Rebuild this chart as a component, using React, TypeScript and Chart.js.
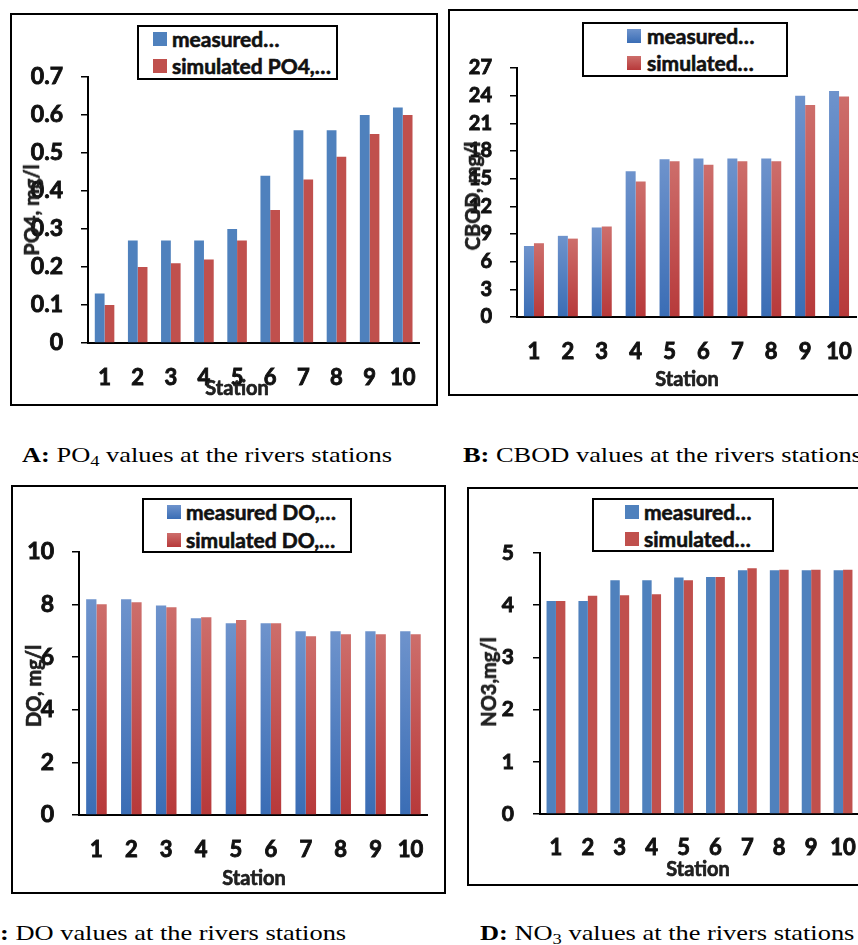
import React, { useEffect, useRef } from "react";
import { Chart, registerables } from "chart.js";

Chart.register(...registerables);

const stations = ["1", "2", "3", "4", "5", "6", "7", "8", "9", "10"];

const po4Measured = [0.13, 0.27, 0.27, 0.27, 0.3, 0.44, 0.56, 0.56, 0.6, 0.62];
const po4Simulated = [0.1, 0.2, 0.21, 0.22, 0.27, 0.35, 0.43, 0.49, 0.55, 0.6];

const cbodMeasured = [7.7, 8.8, 9.7, 15.8, 17.1, 17.2, 17.2, 17.2, 24.0, 24.5];
const cbodSimulated = [8.0, 8.5, 9.8, 14.7, 16.9, 16.5, 16.9, 16.9, 23.0, 23.9];

const doMeasured = [8.2, 8.2, 7.97, 7.48, 7.29, 7.29, 6.99, 6.99, 6.99, 6.99];
const doSimulated = [8.01, 8.09, 7.9, 7.52, 7.41, 7.29, 6.8, 6.87, 6.87, 6.87];

const no3Measured = [4.08, 4.08, 4.48, 4.48, 4.53, 4.54, 4.67, 4.67, 4.67, 4.67];
const no3Simulated = [4.08, 4.18, 4.19, 4.21, 4.48, 4.54, 4.71, 4.68, 4.68, 4.68];

const legendA = ["measured…", "simulated PO4,…"];
const legendB = ["measured…", "simulated…"];
const legendC = ["measured DO,…", "simulated DO,…"];
const legendD = ["measured…", "simulated…"];

const FONT = "Lato, 'Open Sans', sans-serif";
const WEIGHT = 700;
const STROKE = "0.6px #111";
const BLUE = "#4F81BD";
const RED = "#C0504D";
const BLUE_TOP = "#6E93CC";
const BLUE_BOT = "#3A6DB5";
const RED_TOP = "#CD6E6B";
const RED_BOT = "#B7393A";

type Rect = { l: number; t: number; w: number; h: number };
type Area = { l: number; t: number; r: number; b: number };
type LegendGeo = { l: number; t: number; w: number; h: number; swX: number; sw: number; textX: number; rows: number[]; font: number; texts: string[] };
type PanelProps = {
  box: Rect;
  area: Area;
  measured: number[];
  simulated: number[];
  yMax: number;
  yStep: number;
  yFont: number;
  xFont: number;
  yPad: number;
  xPad: number;
  gradient: boolean;
  legend: LegendGeo;
  yTitle: string;
  yTitlePos: { cx: number; cy: number; font: number };
  xTitlePos: { cx: number; cy: number; font: number };
};

function barFill(top: string, bot: string, flat: string, gradient: boolean) {
  if (!gradient) return flat;
  return (ctx: any) => {
    const chart = ctx.chart;
    const y = chart.scales && chart.scales.y;
    const area = chart.chartArea;
    if (!y || !area || ctx.type !== "data") return flat;
    const v = ctx.raw as number;
    const yTop = y.getPixelForValue(v);
    if (!isFinite(yTop) || yTop >= area.bottom) return flat;
    const g = chart.ctx.createLinearGradient(0, yTop, 0, area.bottom);
    g.addColorStop(0, top);
    g.addColorStop(1, bot);
    return g;
  };
}

function Panel(p: PanelProps) {
  const ref = useRef<HTMLCanvasElement | null>(null);
  useEffect(() => {
    if (!ref.current) return;
    const { box, area } = p;
    const chart = new Chart(ref.current, {
      type: "bar",
      data: {
        labels: stations,
        datasets: [
          {
            label: p.legend.texts[0],
            data: p.measured,
            backgroundColor: barFill(BLUE_TOP, BLUE_BOT, BLUE, p.gradient) as any,
            borderWidth: 0,
            categoryPercentage: 0.59,
            barPercentage: 1,
          },
          {
            label: p.legend.texts[1],
            data: p.simulated,
            backgroundColor: barFill(RED_TOP, RED_BOT, RED, p.gradient) as any,
            borderWidth: 0,
            categoryPercentage: 0.59,
            barPercentage: 1,
          },
        ],
      },
      options: {
        responsive: false,
        animation: false,
        events: [],
        layout: {
          padding: {
            left: 0,
            top: area.t - box.t,
            right: box.l + box.w - area.r,
            bottom: 0,
          },
        },
        plugins: { legend: { display: false }, tooltip: { enabled: false }, title: { display: false } },
        scales: {
          x: {
            grid: { display: false, drawTicks: false, tickLength: 0 },
            border: { display: true, color: "#000", width: 2 },
            ticks: {
              color: "#111",
              font: { family: FONT, size: p.xFont, weight: WEIGHT as any },
              textStrokeColor: "#111",
              textStrokeWidth: 0.9,
              padding: p.xPad,
              autoSkip: false,
              maxRotation: 0,
              minRotation: 0,
            },
            afterFit: (s: any) => {
              s.height = box.t + box.h - area.b;
            },
          },
          y: {
            min: 0,
            max: p.yMax,
            grid: { display: true, drawOnChartArea: false, drawTicks: true, tickLength: 7, color: "#000", lineWidth: 1.5 },
            border: { display: true, color: "#000", width: 2 },
            ticks: {
              stepSize: p.yStep,
              color: "#111",
              font: { family: FONT, size: p.yFont, weight: WEIGHT as any },
              textStrokeColor: "#111",
              textStrokeWidth: 0.9,
              padding: p.yPad,
            },
            afterFit: (s: any) => {
              s.width = area.l - box.l;
            },
          },
        },
      },
    });
    return () => chart.destroy();
  }, []);

  const { box, legend } = p;
  const swatch = (i: number) =>
    p.gradient
      ? i === 0
        ? `linear-gradient(${BLUE_TOP}, ${BLUE_BOT})`
        : `linear-gradient(${RED_TOP}, ${RED_BOT})`
      : i === 0
      ? BLUE
      : RED;
  const textBase: React.CSSProperties = {
    position: "absolute",
    fontFamily: FONT,
    fontWeight: WEIGHT,
    whiteSpace: "nowrap",
    WebkitTextStroke: STROKE,
  };
  return (
    <>
      <canvas
        ref={ref}
        width={box.w}
        height={box.h}
        style={{ position: "absolute", left: box.l, top: box.t, width: box.w, height: box.h }}
      />
      <div
        style={{
          position: "absolute",
          left: box.l,
          top: box.t,
          width: box.w,
          height: box.h,
          border: "2px solid #000",
          boxSizing: "border-box",
          pointerEvents: "none",
        }}
      />
      <div
        style={{
          position: "absolute",
          left: legend.l,
          top: legend.t,
          width: legend.w,
          height: legend.h,
          border: "2px solid #000",
          boxSizing: "border-box",
          background: "#fff",
        }}
      />
      {legend.texts.map((t, i) => (
        <React.Fragment key={i}>
          <div
            style={{
              position: "absolute",
              left: legend.swX,
              top: legend.rows[i] - legend.sw / 2,
              width: legend.sw,
              height: legend.sw,
              background: swatch(i),
            }}
          />
          <div
            style={{
              ...textBase,
              left: legend.textX,
              top: legend.rows[i] - legend.font * 0.6,
              height: legend.font * 1.2,
              lineHeight: `${legend.font * 1.2}px`,
              fontSize: legend.font,
              color: "#111",
            }}
          >
            {t}
          </div>
        </React.Fragment>
      ))}
      <div
        style={{
          ...textBase,
          left: p.yTitlePos.cx,
          top: p.yTitlePos.cy,
          transform: "translate(-50%, -50%) rotate(-90deg)",
          fontSize: p.yTitlePos.font,
          lineHeight: 1,
          color: "#222",
        }}
      >
        {p.yTitle}
      </div>
      <div
        style={{
          ...textBase,
          left: p.xTitlePos.cx,
          top: p.xTitlePos.cy,
          transform: "translate(-50%, -50%)",
          fontSize: p.xTitlePos.font,
          lineHeight: 1,
          color: "#222",
        }}
      >
        Station
      </div>
    </>
  );
}

const capStyle = (left: number, top: number): React.CSSProperties => ({
  position: "absolute",
  left,
  top,
  fontFamily: "'Liberation Serif', 'Times New Roman', serif",
  fontSize: 22,
  lineHeight: "22px",
  color: "#000",
  whiteSpace: "nowrap",
  transform: "scaleX(1.2)",
  transformOrigin: "0 50%",
});

const subStyle: React.CSSProperties = { fontSize: "0.7em", verticalAlign: "-0.25em", lineHeight: 0 };

export default function App() {
  return (
    <div style={{ position: "fixed", left: 0, top: 0, width: 858, height: 945, overflow: "hidden", background: "#fff" }}>
      <Panel
        box={{ l: 10, t: 13, w: 428, h: 393 }}
        area={{ l: 88, t: 77, r: 428, b: 343 }}
        measured={po4Measured}
        simulated={po4Simulated}
        yMax={0.7}
        yStep={0.1}
        yFont={23}
        xFont={22}
        yPad={18}
        xPad={22}
        gradient={false}
        legend={{ l: 137, t: 25, w: 201, h: 55, swX: 153, sw: 14, textX: 172, rows: [39, 66], font: 21, texts: legendA }}
        yTitle="PO4, mg/l"
        yTitlePos={{ cx: 31, cy: 210, font: 20 }}
        xTitlePos={{ cx: 237, cy: 387, font: 20 }}
      />
      <Panel
        box={{ l: 448, t: 9, w: 430, h: 387 }}
        area={{ l: 517, t: 68, r: 856, b: 317 }}
        measured={cbodMeasured}
        simulated={cbodSimulated}
        yMax={27}
        yStep={3}
        yFont={20}
        xFont={22}
        yPad={18}
        xPad={22}
        gradient={true}
        legend={{ l: 582, t: 22, w: 206, h: 55, swX: 627, sw: 14, textX: 647, rows: [36, 63], font: 21, texts: legendB }}
        yTitle="CBOD, mg/l"
        yTitlePos={{ cx: 472, cy: 196, font: 20 }}
        xTitlePos={{ cx: 687, cy: 378, font: 20 }}
      />
      <Panel
        box={{ l: 11, t: 485, w: 435, h: 409 }}
        area={{ l: 79, t: 552, r: 430, b: 815 }}
        measured={doMeasured}
        simulated={doSimulated}
        yMax={10}
        yStep={2}
        yFont={23}
        xFont={22}
        yPad={18}
        xPad={22}
        gradient={true}
        legend={{ l: 142, t: 498, w: 210, h: 55, swX: 167, sw: 14, textX: 186, rows: [512, 540], font: 21, texts: legendC }}
        yTitle="DO, mg/l"
        yTitlePos={{ cx: 33, cy: 686, font: 20 }}
        xTitlePos={{ cx: 254, cy: 877, font: 20 }}
      />
      <Panel
        box={{ l: 467, t: 487, w: 420, h: 399 }}
        area={{ l: 540, t: 553, r: 859, b: 814 }}
        measured={no3Measured}
        simulated={no3Simulated}
        yMax={5}
        yStep={1}
        yFont={21}
        xFont={22}
        yPad={19}
        xPad={21}
        gradient={false}
        legend={{ l: 592, t: 498, w: 182, h: 54, swX: 625, sw: 14, textX: 644, rows: [512, 539], font: 21, texts: legendD }}
        yTitle="NO3,mg/l"
        yTitlePos={{ cx: 488, cy: 682, font: 20 }}
        xTitlePos={{ cx: 698, cy: 868, font: 20 }}
      />
      <div style={capStyle(22, 444)}>
        <b>A:</b> PO<sub style={subStyle}>4</sub> values at the rivers stations
      </div>
      <div style={capStyle(463, 444)}>
        <b>B:</b> CBOD values at the rivers stations
      </div>
      <div style={capStyle(-19, 922)}>
        <b>C:</b> DO values at the rivers stations
      </div>
      <div style={capStyle(480, 922)}>
        <b>D:</b> NO<sub style={subStyle}>3</sub> values at the rivers stations
      </div>
    </div>
  );
}
